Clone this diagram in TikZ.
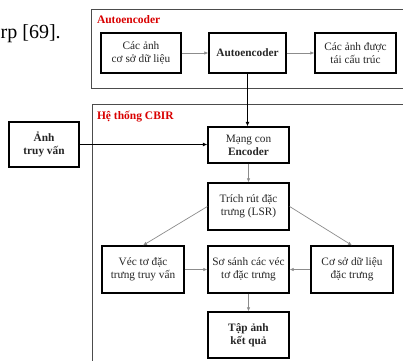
\documentclass[tikz,border=0pt]{standalone}
\usepackage{fontspec}
\setmainfont{Liberation Serif}
\usetikzlibrary{arrows.meta}
\begin{document}
\begin{tikzpicture}[x=1pt,y=-1pt,
  box/.style={draw=black,line width=1.3pt,fill=white,align=center,inner sep=0pt,font=\fontsize{11.3}{13}\selectfont,text=black!85},
  grp/.style={draw=black!70,line width=0.9pt},
  ttl/.style={anchor=west,text=red!85!black,font=\fontsize{11.5}{12}\selectfont\bfseries},
  garr/.style={draw=black!45,line width=0.7pt,-{Latex[length=4pt,width=3.5pt]}},
  barr/.style={draw=black,line width=0.9pt,-{Latex[length=4.5pt,width=4pt]}},
  gline/.style={draw=black!45,line width=0.7pt,-{Latex[length=4pt,width=3.5pt]}}]
\useasboundingbox (0,0) rectangle (403,360);
\clip (0,0) rectangle (403,360);
\fill[white] (0,0) rectangle (403,360);
% cropped caption fragment
\node[anchor=base west,inner sep=0pt,font=\fontsize{20}{22}\selectfont] (cap) at (0.5,38) {rp [69].};
% group frames
\draw[grp] (91,9) rectangle (412,88);
\draw[grp] (92,104) rectangle (412,370);
\node[ttl] (t1) at (93.5,20) {Autoencoder};
\node[ttl] (t2) at (93.5,117) {Hệ thống CBIR};
% nodes
\node[box,minimum width=80pt,minimum height=40pt] (db) at (141,53) {Các ảnh\\cơ sở dữ liệu};
\node[box,minimum width=77pt,minimum height=40pt,font=\fontsize{11.3}{13}\selectfont\bfseries] (ae) at (247.5,53) {Autoencoder};
\node[box,minimum width=81pt,minimum height=40pt] (rec) at (355.5,53) {Các ảnh được\\tái cấu trúc};
\node[box,minimum width=70pt,minimum height=45pt,font=\fontsize{11.3}{13}\selectfont\bfseries] (q) at (44,144.5) {Ảnh\\truy vấn};
\node[box,minimum width=81pt,minimum height=36pt] (enc) at (248.5,145) {Mạng con\\\textbf{Encoder}};
\node[box,minimum width=81pt,minimum height=47pt] (lsr) at (248.5,206.5) {Trích rút đặc\\trưng (LSR)};
\node[box,minimum width=82pt,minimum height=47pt] (qv) at (143,269.5) {Véc tơ đặc\\trưng truy vấn};
\node[box,minimum width=81pt,minimum height=47pt] (cmp) at (248.5,269.5) {Sơ sánh các véc\\tơ đặc trưng};
\node[box,minimum width=82pt,minimum height=47pt] (fdb) at (352,269.5) {Cơ sở dữ liệu\\đặc trưng};
\node[box,minimum width=81pt,minimum height=46pt,font=\fontsize{11.3}{13}\selectfont\bfseries] (res) at (248.5,335) {Tập ảnh\\kết quả};
% connectors
\draw[garr] (db) -- (ae);
\draw[garr] (ae) -- (rec);
\draw[barr] (ae.south) -- (ae.south |- enc.north);
\draw[barr] (q) -- (q -| enc.west);
\draw[garr] (enc) -- (lsr);
\draw[gline] (lsr.west) -- (qv.north);
\draw[gline] (lsr.east) -- (fdb.north);
\draw[garr] (qv) -- (cmp);
\draw[garr] (fdb) -- (cmp);
\draw[garr] (cmp) -- (res);
\end{tikzpicture}
\end{document}
